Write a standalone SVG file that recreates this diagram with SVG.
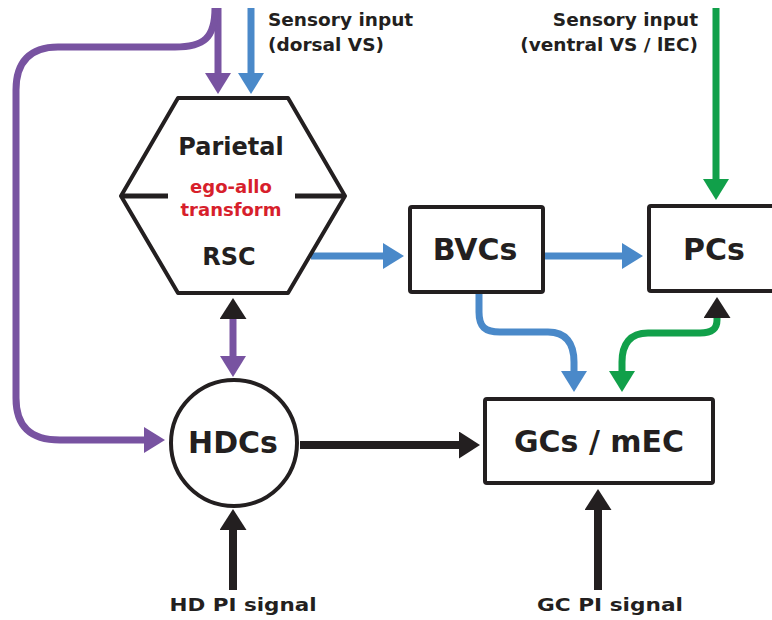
<svg xmlns="http://www.w3.org/2000/svg" width="772" height="620" viewBox="0 0 772 620">
  <style>
    text { font-family: "DejaVu Sans", "Liberation Sans", sans-serif; font-weight: bold; fill: #231f20; }
    .big { font-size: 30px; text-anchor: middle; }
    .mid { font-size: 24px; text-anchor: middle; }
    .red { font-size: 18px; text-anchor: middle; fill: #d71f2c; }
    .lab { font-size: 18.5px; }
    .bot { font-size: 18px; text-anchor: middle; }
    .box { fill: #ffffff; stroke: #231f20; stroke-width: 4; stroke-linejoin: round; }
    .wire { fill: none; stroke-linecap: butt; }
    .purple { stroke: #7853a1; stroke-width: 7; }
    .blue { stroke: #4a89c9; stroke-width: 7; }
    .green { stroke: #11a04a; stroke-width: 7; }
    .black { stroke: #231f20; stroke-width: 8; }
  </style>
  <defs>
    <marker id="hPurple" viewBox="0 0 21 26" refX="0" refY="13" markerWidth="21" markerHeight="26" markerUnits="userSpaceOnUse" orient="auto-start-reverse">
      <path d="M0,0 L21,13 L0,26 Z" fill="#7853a1"/>
    </marker>
    <marker id="hBlue" viewBox="0 0 21 26" refX="0" refY="13" markerWidth="21" markerHeight="26" markerUnits="userSpaceOnUse" orient="auto-start-reverse">
      <path d="M0,0 L21,13 L0,26 Z" fill="#4a89c9"/>
    </marker>
    <marker id="hGreen" viewBox="0 0 21 26" refX="0" refY="13" markerWidth="21" markerHeight="26" markerUnits="userSpaceOnUse" orient="auto-start-reverse">
      <path d="M0,0 L21,13 L0,26 Z" fill="#11a04a"/>
    </marker>
    <marker id="hBlack" viewBox="0 0 21 27" refX="0" refY="13.5" markerWidth="21" markerHeight="27" markerUnits="userSpaceOnUse" orient="auto-start-reverse">
      <path d="M0,0 L21,13.5 L0,27 Z" fill="#231f20"/>
    </marker>
  </defs>

  <!-- connectors -->
  <g id="connectors">
    <!-- purple feedback loop into parietal and around to HDCs -->
    <path class="wire purple" d="M218,8 V73" marker-end="url(#hPurple)"/>
    <path class="wire purple" d="M215,8 C215,38 204,47 175,47 H58 C30,47 16,62 16,90 V398 C16,426 30,440 60,440 H144" marker-end="url(#hPurple)"/>
    <!-- dorsal sensory input -->
    <path class="wire blue" d="M251,8 V73" marker-end="url(#hBlue)"/>
    <!-- ventral sensory input -->
    <path class="wire green" d="M716,8 V179" marker-end="url(#hGreen)"/>
    <!-- parietal -> BVCs -> PCs -->
    <path class="wire blue" d="M311,256 H383" marker-end="url(#hBlue)"/>
    <path class="wire blue" d="M545,256 H622" marker-end="url(#hBlue)"/>
    <!-- BVCs -> GCs -->
    <path class="wire blue" d="M479,294 V312 C479,327 485,332 500,332 H548 C566,332 574,343 574,362 V371" marker-end="url(#hBlue)"/>
    <!-- PCs <-> GCs -->
    <path class="wire green" d="M717,318 V320 C717,329 712,333 700,333 H648 C630,333 622,344 622,362 V371" marker-start="url(#hBlack)" marker-end="url(#hGreen)"/>
    <!-- parietal <-> HDCs -->
    <path class="wire purple" d="M233,319 V356" marker-start="url(#hBlack)" marker-end="url(#hPurple)"/>
    <!-- HDCs -> GCs -->
    <path class="wire black" d="M300,445 H459" marker-end="url(#hBlack)"/>
    <!-- path integration signals -->
    <path class="wire black" d="M233,590 V530" marker-end="url(#hBlack)"/>
    <path class="wire black" d="M598,590 V510" marker-end="url(#hBlack)"/>
  </g>

  <!-- parietal / RSC hexagon -->
  <g id="parietal">
    <path class="box" d="M178,98 H288 L345,196 L288,293 H178 L121,196 Z"/>
    <path d="M121,196 H168 M295,196 H345" stroke="#231f20" stroke-width="5" fill="none"/>
    <text class="mid" x="231" y="155">Parietal</text>
    <text class="red" x="231" y="193">ego-allo</text>
    <text class="red" x="231" y="216">transform</text>
    <text class="mid" x="229" y="265">RSC</text>
  </g>

  <g id="bvcs">
    <rect class="box" x="410" y="207" width="133" height="85" rx="2"/>
    <text class="big" x="475" y="260">BVCs</text>
  </g>

  <g id="pcs">
    <rect class="box" x="649" y="206" width="140" height="85" rx="2"/>
    <text class="big" x="714" y="260">PCs</text>
  </g>

  <g id="hdcs">
    <circle class="box" cx="234" cy="443" r="63"/>
    <text class="big" x="233" y="453">HDCs</text>
  </g>

  <g id="gcs">
    <rect class="box" x="485" y="399" width="228" height="84" rx="2"/>
    <text class="big" x="599" y="452">GCs / mEC</text>
  </g>

  <!-- input labels -->
  <g id="labels">
    <text class="lab" x="268" y="26">Sensory input</text>
    <text class="lab" x="268" y="51">(dorsal VS)</text>
    <text class="lab" x="698" y="26" text-anchor="end">Sensory input</text>
    <text class="lab" x="698" y="51" text-anchor="end">(ventral VS / lEC)</text>
    <text class="bot" x="243" y="611" textLength="147" lengthAdjust="spacingAndGlyphs">HD PI signal</text>
    <text class="bot" x="610" y="611" textLength="146" lengthAdjust="spacingAndGlyphs">GC PI signal</text>
  </g>
</svg>
